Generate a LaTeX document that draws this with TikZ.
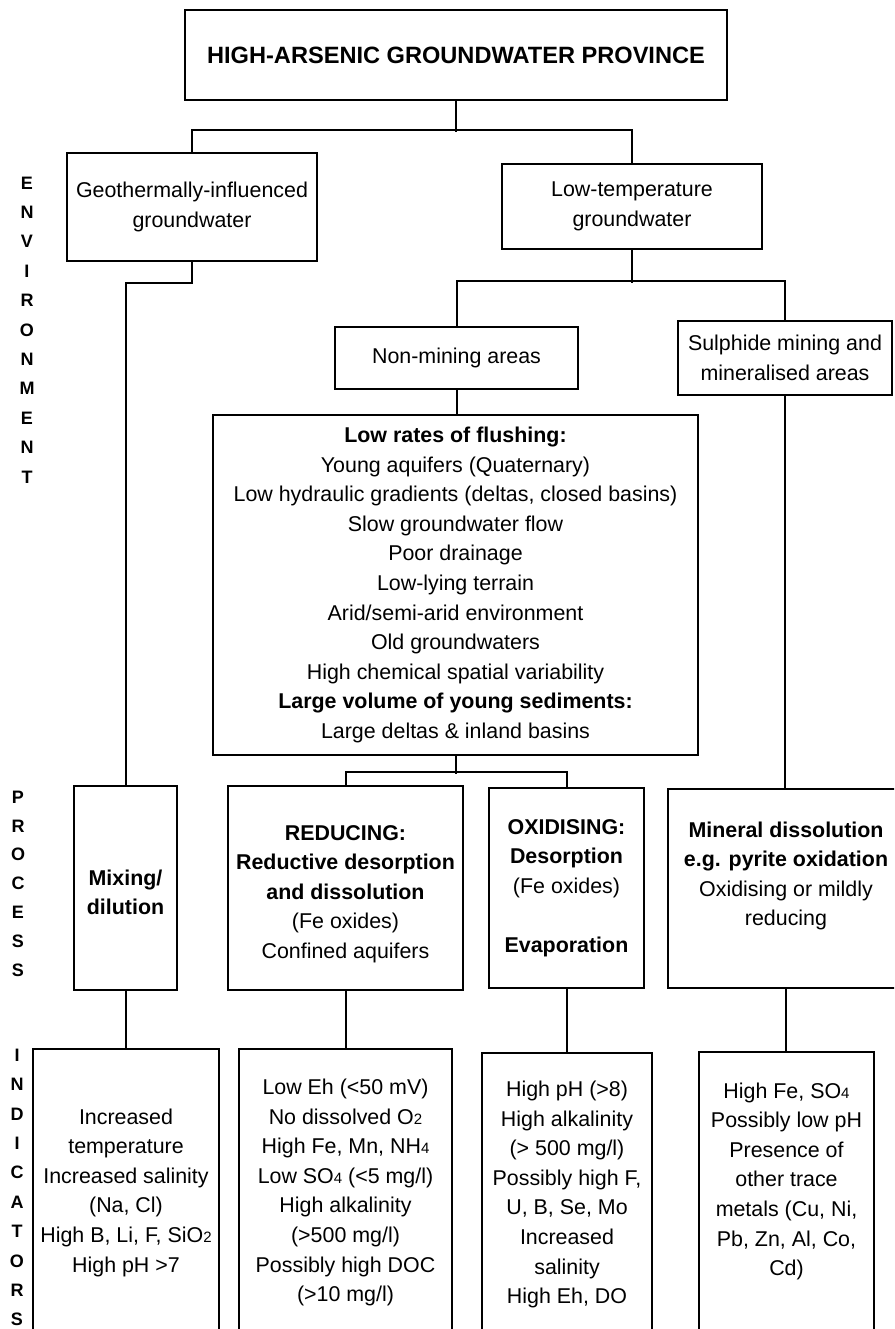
\documentclass[tikz,border=0pt]{standalone}
\usepackage{fontspec}
\setmainfont{Liberation Sans}
\newcommand{\subnum}[1]{{\fontsize{15}{15}\selectfont #1}}

\tikzset{
  box/.style={draw,align=center,inner sep=0pt,font=\fontsize{21.4}{29.6}\selectfont},
  side/.style={font=\fontsize{18}{18}\selectfont\bfseries}
}

\begin{document}
\begin{tikzpicture}[x=1pt,y=-1pt,line width=2pt]
  % Page
  \useasboundingbox (0,0) rectangle (894,1329);
  \clip (0,0) rectangle (894,1329);

  % Side labels
  \foreach \ch [count=\i from 0] in {E,N,V,I,R,O,N,M,E,N,T}
    \node[side] (env\i) at (27,183+29.4*\i) {\ch};
  \foreach \ch [count=\i from 0] in {P,R,O,C,E,S,S}
    \node[side] (proc\i) at (18,797+28.8*\i) {\ch};
  \foreach \ch [count=\i from 0] in {I,N,D,I,C,A,T,O,R,S}
    \node[side] (ind\i) at (17,1055+29.4*\i) {\ch};

  % Environment
  \node[box,minimum width=542pt,minimum height=90pt,
        font=\fontsize{23.6}{28}\selectfont\bfseries] (arsenic) at (456,55)
    {HIGH-ARSENIC GROUNDWATER PROVINCE};
  \node[box,minimum width=250pt,minimum height=108pt] (geo) at (192,207)
    {Geothermally-influenced\\groundwater};
  \node[box,minimum width=260pt,minimum height=85pt] (lowtemp) at (632,206.5)
    {Low-temperature\\groundwater};
  \node[box,minimum width=243pt,minimum height=62pt] (nonmin) at (456.5,358)
    {Non-mining areas};
  \node[box,minimum width=214pt,minimum height=74pt] (sulph) at (785,358)
    {Sulphide mining and\\mineralised areas};
  \node[box,minimum width=485pt,minimum height=340pt] (flush) at (455.5,585)
    {\textbf{Low rates of flushing:}\\
     Young aquifers (Quaternary)\\
     Low hydraulic gradients (deltas, closed basins)\\
     Slow groundwater flow\\
     Poor drainage\\
     Low-lying terrain\\
     Arid/semi-arid environment\\
     Old groundwaters\\
     High chemical spatial variability\\
     \textbf{Large volume of young sediments:}\\
     Large deltas \& inland basins};

  % Process
  \node[box,minimum width=103pt,minimum height=204pt] (mix) at (125.5,888)
    {\rule{0pt}{24pt}\textbf{Mixing/}\\\textbf{dilution}};
  \node[box,minimum width=235pt,minimum height=204pt] (reduc) at (345.5,888)
    {\rule{0pt}{27pt}\textbf{REDUCING:}\\
     \textbf{Reductive desorption}\\
     \textbf{and dissolution}\\
     (Fe oxides)\\
     Confined aquifers};
  \node[box,minimum width=155pt,minimum height=200pt] (oxid) at (566.5,888)
    {\textbf{OXIDISING:}\\
     \textbf{Desorption}\\
     (Fe oxides)\\[29.6pt]
     \textbf{Evaporation}};
  \node[box,minimum width=236pt,minimum height=199pt] (mineral) at (786,888.5)
    {\textbf{Mineral dissolution}\\
     \textbf{e.g. pyrite oxidation}\\
     Oxidising or mildly\\
     reducing\\ \mbox{}};

  % Indicators
  \node[box,minimum width=186pt,minimum height=287pt] (indmix) at (126,1192.5)
    {Increased\\
     temperature\\
     Increased salinity\\
     (Na, Cl)\\
     High B, Li, F, SiO\subnum{2}\\
     High pH >7};
  \node[box,minimum width=213pt,minimum height=287pt] (indred) at (345.5,1192.5)
    {Low Eh (<50 mV)\\
     No dissolved O\subnum{2}\\
     High Fe, Mn, NH\subnum{4}\\
     Low SO\subnum{4} (<5 mg/l)\\
     High alkalinity\\
     (>500 mg/l)\\
     Possibly high DOC\\
     (>10 mg/l)};
  \node[box,minimum width=170pt,minimum height=283pt] (indox) at (567,1194.5)
    {High pH (>8)\\
     High alkalinity\\
     (> 500 mg/l)\\
     Possibly high F,\\
     U, B, Se, Mo\\
     Increased\\
     salinity\\
     High Eh, DO};
  \node[box,minimum width=175pt,minimum height=284pt] (indmin) at (786.5,1194)
    {High Fe, SO\subnum{4}\\
     Possibly low pH\\
     Presence of\\
     other trace\\
     metals (Cu, Ni,\\
     Pb, Zn, Al, Co,\\
     Cd)\\ \mbox{}};

  % Connectors
  \draw (arsenic.south) -- ++(0,31);
  \draw (geo.north) -- ++(0,-22) -| (lowtemp.north);
  \draw (geo.south) -- ++(0,21) -| (mix.north);
  \draw (lowtemp.south) -- ++(0,33);
  \draw (nonmin.north) -- ++(0,-45) -| (sulph.north);
  \draw (nonmin.south) -- (nonmin.south |- flush.north);
  \draw (sulph.south) -- (sulph.south |- mineral.north);
  \draw (flush.south) -- ++(0,18);
  \draw (reduc.north) -- ++(0,-13) -| (oxid.north);
  \draw (mix.south) -- (mix.south |- indmix.north);
  \draw (reduc.south) -- (reduc.south |- indred.north);
  \draw (oxid.south) -- (oxid.south |- indox.north);
  \draw (mineral.south) -- (mineral.south |- indmin.north);
\end{tikzpicture}
\end{document}
